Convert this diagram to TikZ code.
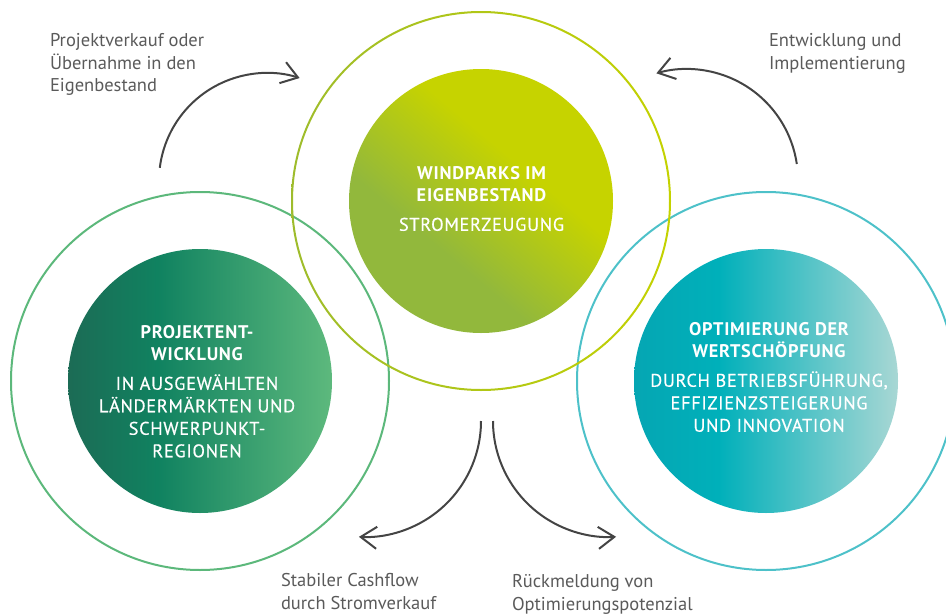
\documentclass[tikz,border=0pt]{standalone}
\usepackage{fontspec}
\setmainfont{PT Sans}
\usetikzlibrary{arrows.meta}
\definecolor{txtgray}{HTML}{5A5A5A}
\definecolor{arrgray}{HTML}{444444}
\definecolor{ringL}{HTML}{5CB87B}
\definecolor{ringR}{HTML}{4DC1C9}
\definecolor{ringTa}{HTML}{9EBC2C}
\definecolor{ringTb}{HTML}{C4D200}
\definecolor{topG}{HTML}{92B83C}
\definecolor{topY}{HTML}{C6D300}
\definecolor{lfA}{HTML}{1C6B55}
\definecolor{lfB}{HTML}{108260}
\definecolor{lfC}{HTML}{5DB97D}
\definecolor{rfA}{HTML}{05A6B3}
\definecolor{rfB}{HTML}{00B0BA}
\definecolor{rfC}{HTML}{A8D7D4}
\pgfdeclareverticalshading{topfill}{100bp}{color(0bp)=(topG); color(38bp)=(topG); color(60bp)=(topY); color(100bp)=(topY)}
\pgfdeclarehorizontalshading{leftfill}{100bp}{color(0bp)=(lfA); color(25bp)=(lfA); color(42bp)=(lfB); color(75bp)=(lfC); color(100bp)=(lfC)}
\pgfdeclarehorizontalshading{rightfill}{100bp}{color(0bp)=(rfA); color(25bp)=(rfA); color(41bp)=(rfB); color(75bp)=(rfC); color(100bp)=(rfC)}
\pgfdeclarehorizontalshading{topring}{100bp}{color(0bp)=(ringTa); color(25bp)=(ringTa); color(75bp)=(ringTb); color(100bp)=(ringTb)}
\newcommand{\medtxt}{\addfontfeatures{FakeBold=0.5}}
\begin{document}
\begin{tikzpicture}[x=1pt,y=-1pt,
  ring/.style={circle, line width=2pt, minimum size=378pt, inner sep=0pt, outer sep=0pt},
  disc/.style={circle, minimum size=264pt, inner sep=0pt, outer sep=0pt, shade},
  lbl/.style={anchor=north west, align=left, inner sep=0pt, outer sep=0pt, text=txtgray,
    font=\fontsize{18.5pt}{22.5pt}\selectfont},
  intext/.style={anchor=north, align=center, inner sep=0pt, outer sep=0pt, text=white,
    font=\fontsize{18.3pt}{22.5pt}\selectfont\addfontfeatures{LetterSpace=4}},
  arr/.style={draw=arrgray, line width=2pt, -{Straight Barb[length=16pt,width=22pt]}}]
\useasboundingbox (0,0) rectangle (946,616);
\coordinate (cT) at (481,201);
\coordinate (cL) at (200,381);
\coordinate (cR) at (766,381);
% outer rings
\node[ring, draw=ringL] (ringLeft) at (cL) {};
\node[ring, draw=ringR] (ringRight) at (cR) {};
\path[shade, shading=topring, even odd rule] (cT) circle[radius=190] (cT) circle[radius=188];
% filled discs
\node[disc, shading=topfill, shading angle=-40] (discT) at (cT) {};
\node[disc, shading=leftfill] (discL) at (cL) {};
\node[disc, shading=rightfill] (discR) at (cR) {};
% disc texts
\node[intext] (txtT) at (481.5,166.2) {{\bfseries WINDPARKS IM}\\{\bfseries EIGENBESTAND}\\[6.5pt]{\medtxt STROMERZEUGUNG}};
\node[intext] (txtL) at (197,325.2) {{\bfseries PROJEKTENT-}\\{\bfseries WICKLUNG}\\[6.5pt]{\medtxt IN AUSGEWÄHLTEN}\\{\medtxt LÄNDERMÄRKTEN UND}\\{\medtxt SCHWERPUNKT-}\\{\medtxt REGIONEN}};
\node[intext] (txtR) at (769,322.2) {{\bfseries OPTIMIERUNG DER}\\{\bfseries WERTSCHÖPFUNG}\\[6.5pt]{\medtxt DURCH BETRIEBSFÜHRUNG,}\\{\medtxt EFFIZIENZSTEIGERUNG}\\{\medtxt UND INNOVATION}};
% labels
\node[lbl] (lab1) at (50,33.7) {Projektverkauf oder\\Übernahme in den\\Eigenbestand};
\node[lbl] (lab2) at (769,33.7) {Entwicklung und\\Implementierung};
\node[lbl] (lab3) at (281,573.7) {Stabiler Cashflow\\durch Stromverkauf};
\node[lbl] (lab4) at (512,574.7) {Rückmeldung von\\Optimierungspotenzial};
% arrows
\coordinate (a1) at (159.8,167.8);
\coordinate (a2) at (796.8,164);
\coordinate (a3) at (481,421);
\coordinate (a4) at (493,421);
\draw[arr] (a1) arc[start angle=187, end angle=287.6, radius=108];
\draw[arr] (a2) arc[start angle=-8.3, end angle=-106, radius=111];
\draw[arr] (a3) arc[start angle=0, end angle=93, radius=116];
\draw[arr] (a4) arc[start angle=180, end angle=86.5, radius=116];
\end{tikzpicture}
\end{document}
